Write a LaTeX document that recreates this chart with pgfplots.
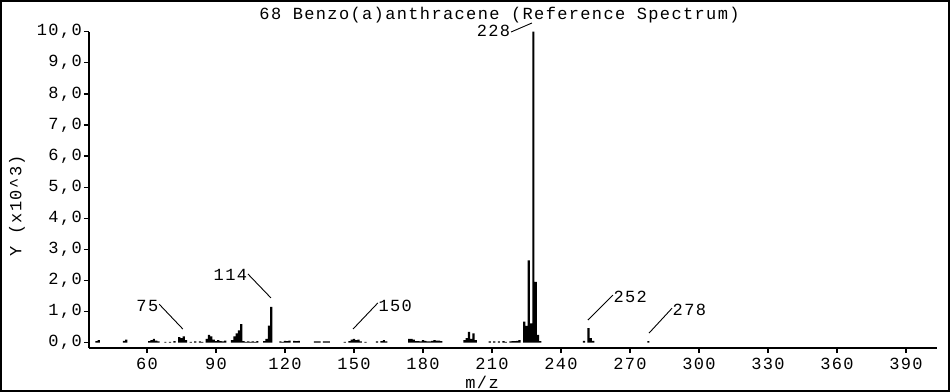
\documentclass[border=0pt]{standalone}
\usepackage{pgfplots}
\pgfplotsset{compat=1.18}
\usepackage{fontspec}
\newfontfamily\chemfont[LetterSpace=8]{Liberation Mono}
\newcommand\cf{\chemfont\fontsize{17bp}{20bp}\selectfont}

\begin{document}
\begin{tikzpicture}
\begin{axis}[
    at={(0,0)}, anchor=south west,
    scale only axis,
    width=848bp, height=316.3bp,
    xmin=34.8, xmax=403.5,
    ymin=-0.17, ymax=10,
    axis x line*=bottom, axis y line*=left,
    axis line style={-, line width=1.8bp, black},
    tick style={black, line width=1.4bp},
    major tick length=5bp,
    tick align=outside,
    xtick={60,90,...,390},
    xticklabels={60,90,120,150,180,210,240,270,300,330,360,390},
    ytick={0,1,...,10},
    yticklabels={{0,0},{1,0},{2,0},{3,0},{4,0},{5,0},{6,0},{7,0},{8,0},{9,0},{10,0}},
    ticklabel style={font=\cf, inner sep=0pt},
    yticklabel style={anchor=east, xshift=-2bp},
    xticklabel style={anchor=north, yshift=-5bp},
    clip=false,
]
% m/z   intensity (x10^3)
\addplot[ybar, bar width=2.2bp, fill=black, draw=none] table {
mz  int
38  0.05
39  0.08
50  0.06
51  0.10
61  0.05
62  0.08
63  0.12
64  0.07
65  0.04
68  0.03
70  0.03
72  0.05
74  0.18
75  0.15
76  0.20
77  0.08
79  0.03
81  0.04
83  0.04
84  0.03
86  0.12
87  0.25
88  0.20
89  0.10
90  0.05
91  0.08
92  0.05
93  0.04
94  0.07
97  0.08
98  0.20
99  0.30
100 0.40
101 0.60
102 0.05
103 0.03
104 0.04
105 0.03
106 0.04
107 0.03
108 0.05
111 0.05
112 0.12
113 0.55
114 1.15
118 0.04
119 0.03
120 0.06
121 0.05
122 0.07
124 0.06
125 0.05
126 0.06
133 0.04
134 0.04
135 0.04
137 0.04
138 0.04
139 0.04
146 0.03
148 0.05
149 0.10
150 0.12
151 0.08
152 0.10
153 0.04
155 0.03
160 0.04
162 0.05
163 0.08
164 0.04
174 0.12
175 0.12
176 0.10
177 0.05
178 0.05
179 0.04
180 0.08
181 0.06
182 0.04
183 0.04
184 0.06
185 0.08
186 0.07
187 0.07
188 0.05
198 0.08
199 0.15
200 0.35
201 0.12
202 0.30
203 0.08
209 0.04
211 0.04
213 0.04
215 0.05
216 0.03
218 0.04
219 0.05
220 0.05
221 0.06
222 0.08
224 0.68
225 0.54
226 2.65
227 0.62
228 10.0
229 1.96
230 0.25
231 0.05
250 0.06
252 0.47
253 0.15
254 0.06
278 0.05
};

% peak labels with leader lines
\draw[line width=0.9bp] (axis cs:75.6,0.44) -- (axis cs:65.3,1.24);
\node[font=\cf, inner sep=0pt, anchor=east] at (axis cs:65.0,1.17) {75};
\draw[line width=0.9bp] (axis cs:113.9,1.44) -- (axis cs:103.9,2.21);
\node[font=\cf, inner sep=0pt, anchor=east] at (axis cs:103.6,2.18) {114};
\draw[line width=0.9bp] (axis cs:149.6,0.44) -- (axis cs:160.4,1.28);
\node[font=\cf, inner sep=0pt, anchor=west] at (axis cs:160.6,1.18) {150};
\draw[line width=0.9bp] (axis cs:227.4,10.28) -- (axis cs:218.3,9.99);
\node[font=\cf, inner sep=0pt, anchor=east] at (axis cs:218.0,10.02) {228};
\draw[line width=0.9bp] (axis cs:251.7,0.73) -- (axis cs:262.6,1.53);
\node[font=\cf, inner sep=0pt, anchor=west] at (axis cs:262.8,1.47) {252};
\draw[line width=0.9bp] (axis cs:278.3,0.31) -- (axis cs:288.3,1.11);
\node[font=\cf, inner sep=0pt, anchor=west] at (axis cs:288.5,1.05) {278};

% title and axis labels
\node[font=\cf, inner sep=0pt, anchor=base] at (axis cs:213.3,10.38)
    {68 Benzo(a)anthracene (Reference Spectrum)};
\node[font=\cf, inner sep=0pt, anchor=base] at (axis cs:205.7,-1.46) {m/z};
\node[font=\cf, inner sep=0pt, rotate=90] at (axis cs:3.5,4.4)
    {Y (x10\textasciicircum3)};
\end{axis}
\draw[line width=2bp] (-88bp,-43bp) rectangle (860bp,347bp);
\pgfresetboundingbox
\useasboundingbox (-89bp,-44bp) rectangle (861bp,348bp);
\end{tikzpicture}
\end{document}
